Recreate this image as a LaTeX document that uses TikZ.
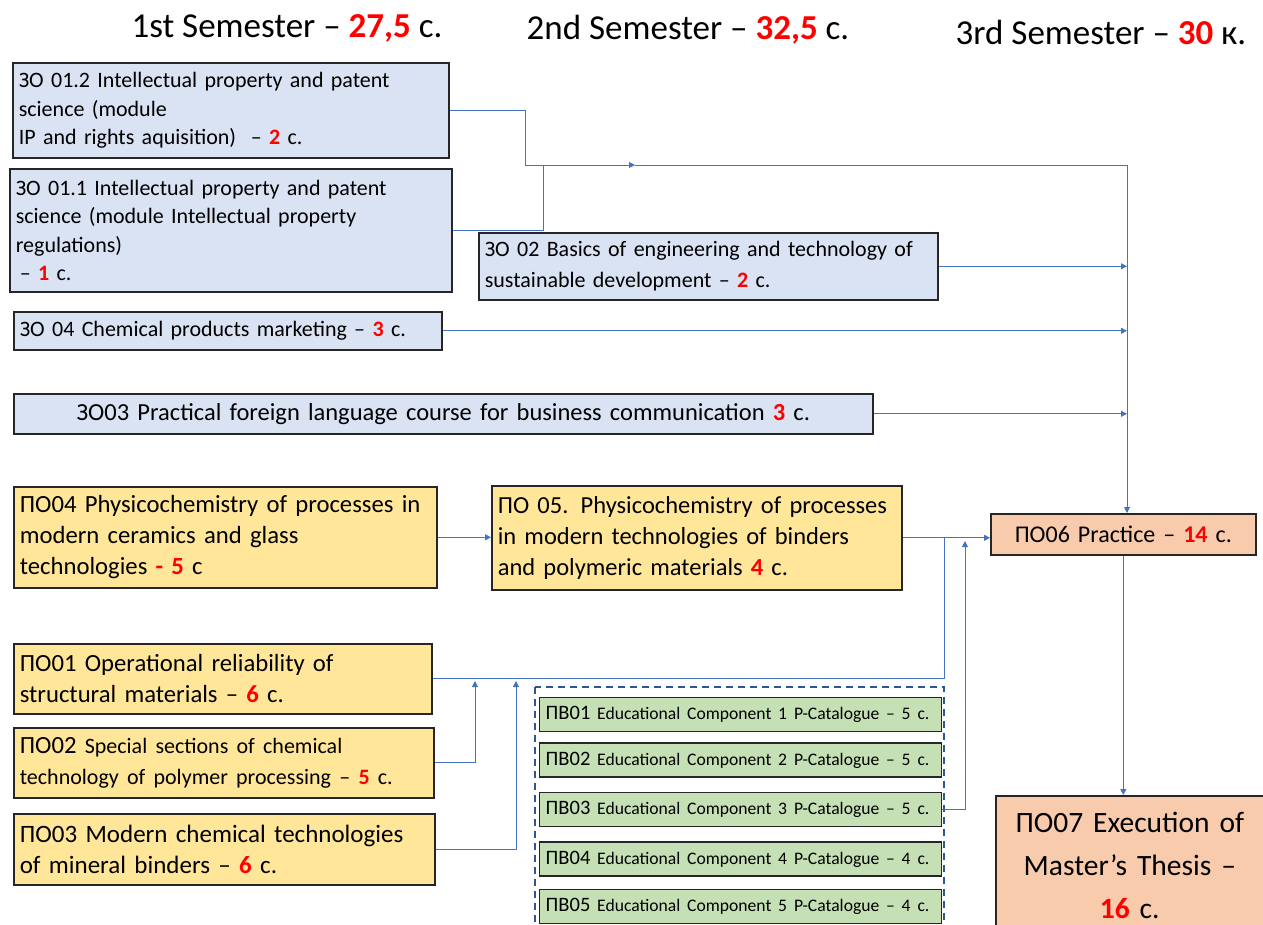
\documentclass[tikz,border=0pt]{standalone}
\usepackage{fontspec}
\setmainfont{Carlito}
\usetikzlibrary{arrows.meta, positioning}
\definecolor{zofill}{HTML}{DAE3F3}
\definecolor{pofill}{HTML}{FFE699}
\definecolor{prfill}{HTML}{F8CBAD}
\definecolor{pvfill}{HTML}{C5E0B4}
\definecolor{linkblue}{HTML}{4472C4}
\definecolor{groupblue}{HTML}{2F5597}
\newcommand\kr[1]{{\color{red}\bfseries #1}}
\tikzset{box/.style={rectangle,draw=black!85,line width=1.6pt,anchor=north west,inner xsep=6pt,inner ysep=2pt,align=left,font=\fontsize{22}{28.5}\selectfont},zo/.style={box,fill=zofill},po/.style={box,fill=pofill,font=\fontsize{24.7}{31}\selectfont},pr/.style={box,fill=prfill,align=center,font=\fontsize{24}{31}\selectfont},pv/.style={box,fill=pvfill,line width=1.4pt,font=\fontsize{20.5}{24}\selectfont},sz/.style 2 args={text width=#1,minimum height=#2},head/.style={font=\fontsize{35}{40}\selectfont},wire/.style={linkblue,line width=0.9pt},link/.style={wire,-{Triangle[length=6pt,width=6pt]}},group/.style={draw=groupblue,line width=1.6pt,dash pattern=on 7pt off 5pt}}

\begin{document}
\begin{tikzpicture}[x=1pt,y=-1pt]
\useasboundingbox (0,0) rectangle (1263,924);
\node[head] (sem1) at (287,28) {1st Semester – \kr{27,5} с.};
\node[head] (sem2) at (688,30) {2nd Semester – \kr{32,5} с.};
\node[head] (sem3) at (1101,32) {3rd Semester – \kr{30} к.};
\node[zo,sz={424pt}{95pt}] (zo12) at (12,62) {ЗО 01.2 Intellectual property and patent\\science (module\\IP and rights aquisition)\ \ – \kr{2} с.};
\node[zo,sz={430pt}{123pt}] (zo11) at (9,168) {ЗО 01.1 Intellectual property and patent\\science (module Intellectual property\\regulations)\\\hspace*{4pt}– \kr{1} с.};
\node[zo,sz={447pt}{67pt},font=\fontsize{22}{31}\selectfont] (zo02) at (478,232) {ЗО 02 Basics of engineering and technology of\\sustainable development – \kr{2} с.};
\node[zo,sz={416pt}{38pt}] (zo04) at (13,311) {ЗО 04 Chemical products marketing – \kr{3} с.};
\node[zo,sz={847pt}{40pt},align=center,font=\fontsize{24.5}{30}\selectfont] (zo03) at (13,393) {ЗО03 Practical foreign language course for business communication \kr{3} с.};
\node[po,sz={411pt}{101pt}] (po04) at (13,486) {ПО04 Physicochemistry of processes in\\modern ceramics and glass\\technologies \kr{- 5} с};
\node[po,sz={398pt}{104pt},font=\fontsize{24.5}{31}\selectfont] (po05) at (491,485) {ПО 05. Physicochemistry of processes\\in modern technologies of binders\\and polymeric materials \kr{4} с.};
\node[pr,sz={253pt}{41pt}] (pr06) at (990,513) {ПО06 Practice – \kr{14} с.};
\node[po,sz={406pt}{70pt}] (po01) at (13,643) {ПО01 Operational reliability of\\structural materials – \kr{6} с.};
\node[po,sz={408pt}{70pt}] (po02) at (13,727) {ПО02 \fontsize{22}{31}\selectfont Special sections of chemical\\technology of polymer processing – \kr{5} с.};
\node[po,sz={409pt}{71pt},font=\fontsize{25}{31}\selectfont] (po03) at (13,813) {ПО03 Modern chemical technologies\\of mineral binders – \kr{6} с.};
\draw[group] (535,687) rectangle (944,935);
\node[pv,sz={390pt}{34pt}] (pv01) at (539,697) {ПВ01 \fontsize{17.6}{24}\selectfont Educational Component 1 P-Catalogue – 5 с.};
\node[pv,sz={390pt}{34pt},below=10pt of pv01] (pv02) {ПВ02 \fontsize{17.6}{24}\selectfont Educational Component 2 P-Catalogue – 5 с.};
\node[pv,sz={390pt}{34pt},below=14pt of pv02] (pv03) {ПВ03 \fontsize{17.6}{24}\selectfont Educational Component 3 P-Catalogue – 5 с.};
\node[pv,sz={390pt}{34pt},below=14pt of pv03] (pv04) {ПВ04 \fontsize{17.6}{24}\selectfont Educational Component 4 P-Catalogue – 4 с.};
\node[pv,sz={390pt}{34pt},below=12pt of pv04] (pv05) {ПВ05 \fontsize{17.6}{24}\selectfont Educational Component 5 P-Catalogue – 4 с.};
\node[pr,sz={256pt}{140pt},font=\fontsize{29.5}{43}\selectfont] (pr07) at (995,795) {ПО07 Execution of\\Master’s Thesis –\\\kr{16} с.};
\coordinate (j1) at (525,165);
\coordinate (j2) at (543,165);
\coordinate (m1) at (635,165);
\coordinate (bus) at (1127,165);
\coordinate (j3) at (944,537);
\coordinate (t1) at (965,541);
\coordinate (t2) at (475,681);
\coordinate (t3) at (516,681);
\draw[wire] (zo12.east) -| (j1);
\draw[wire] (zo11.east) -| (j2);
\draw[link] (j1) -- (m1);
\draw[wire] (m1) -- (bus);
\draw[link] (bus) -- (bus |- pr06.north);
\draw[link] (zo02.east) -- (zo02.east -| bus);
\draw[link] (zo04.east) -- (zo04.east -| bus);
\draw[link] (zo03.east) -- (zo03.east -| bus);
\draw[link] (po04.east) -- (po04.east -| po05.west);
\draw[link] (po05.east) -- (po05.east -| pr06.west);
\draw[wire] (po01.east) -| (j3);
\draw[link] (pv03.east) -| (t1);
\draw[link] (po02.east) -| (t2);
\draw[link] (po03.east) -| (t3);
\draw[link] (pr06.south) -- (pr06.south |- pr07.north);
\end{tikzpicture}
\end{document}
